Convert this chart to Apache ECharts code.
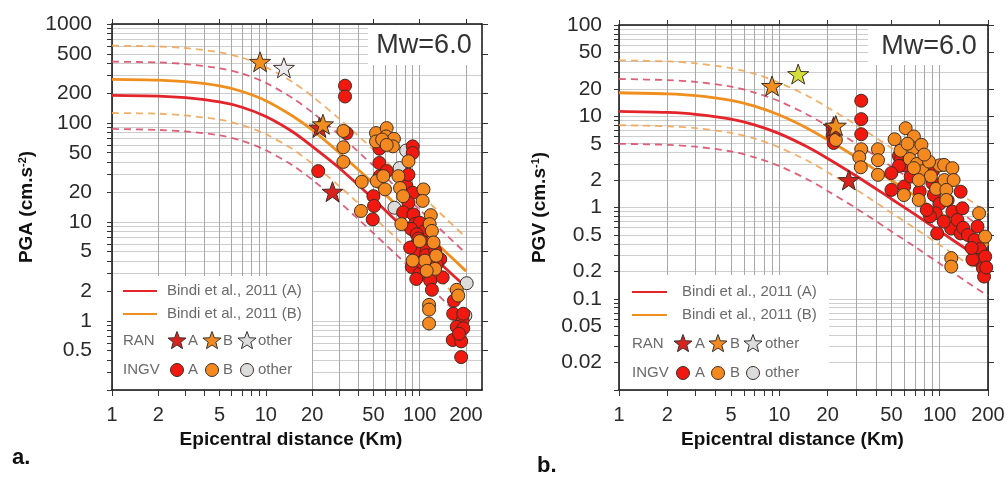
<!DOCTYPE html>
<html><head><meta charset="utf-8">
<script src="https://cdn.jsdelivr.net/npm/echarts@6/dist/echarts.min.js"></script>
<style>html,body{margin:0;padding:0;background:#fff}#c{width:1008px;height:480px}</style>
</head><body><div id="c"></div>
<script>
// ---------- data ----------
const DIST = [1,2,3,5,7,10,15,20,30,50,70,100,150,200];
// Bindi et al. 2011 curves (PGA, cm/s2)
const PGA_A_MED = [190,187,180,163,144,116,81,58,35,17,10.3,6.1,3.3,2.2];
const PGA_A_HI  = [416,409,394,357,315,254,177,128,76,37,22.5,13.3,7.3,4.8];
const PGA_A_LO  = [87,85,82,75,66,53,37,26.7,15.9,7.7,4.7,2.8,1.5,1.0];
const PGA_B_MED = [276,271,261,237,208,168,117,85,50,24.5,15.0,8.8,4.85,3.18];
const PGA_B_HI  = [604,593,572,518,456,367,257,186,110,53.7,32.8,19.3,10.6,6.96];
const PGA_B_LO  = [126,124,119,108,95,77,54,38.8,23.0,11.2,6.9,4.0,2.2,1.45];
// curves (PGV, cm/s)
const PGV_A_MED = [11.3,11.0,10.5,9.3,8.05,6.45,4.6,3.45,2.23,1.24,0.84,0.55,0.34,0.242];
const PGV_A_HI  = [25.6,24.9,23.8,21.1,18.2,14.6,10.4,7.8,5.05,2.81,1.90,1.25,0.77,0.548];
const PGV_A_LO  = [4.99,4.86,4.64,4.11,3.55,2.85,2.03,1.52,0.985,0.547,0.371,0.243,0.150,0.107];
const PGV_B_MED = [18.1,17.6,16.8,14.9,12.9,10.3,7.36,5.52,3.57,1.98,1.34,0.88,0.544,0.387];
const PGV_B_HI  = [41.0,39.9,38.0,33.7,29.2,23.3,16.7,12.5,8.09,4.49,3.04,1.99,1.23,0.877];
const PGV_B_LO  = [7.99,7.77,7.42,6.58,5.70,4.55,3.25,2.44,1.58,0.874,0.592,0.389,0.240,0.171];

// observations [distance km, value]
const PGA_INGV_A = [[32.7,238],[32.7,185],[33.5,79],[21.9,32.6],[50,18.2],[50.5,14.5],[49.5,10.6],[54.7,55],[54.7,39.4],[55,29],[61,32.6],[90,58],[90,49.7],[82,23],[90,19.7],[84.5,15.6],[84.5,30],[78,12.5],[91,11.9],[93,9.5],[100,9.8],[108,8.1],[88,8.5],[95.7,7.5],[98,6.8],[105.8,6.2],[93,5.7],[95.7,4.9],[111,5.1],[86.6,5.5],[110,4.6],[126,5.1],[136,4.2],[115,3.6],[141,2.75],[88.8,3.5],[100,3.0],[95,2.65],[117,2.55],[120,2.06],[103,3.9],[129,3.75],[167,1.6],[165,1.18],[190,1.01],[174,0.87],[192,0.84],[164,0.64],[186,0.62],[180,0.74],[186,0.43],[192,1.18]];
const PGA_INGV_B = [[31.9,83],[31.9,56.8],[31.9,40.4],[42,25.4],[41.5,12.9],[52.5,25.9],[52,79],[61,88.7],[52,65],[60.5,73],[68,69],[67,58],[57,68],[61,60],[59.5,21.3],[58,29],[84.5,41],[72.7,29],[74.5,22],[78,18.2],[105.8,21.3],[104.5,16.3],[118,11.7],[76,9.5],[116,9.5],[120,8.1],[123,6.2],[108,4.06],[100,6.4],[128,4.55],[90,4.06],[126,3.35],[111,3.2],[115,1.45],[115,1.3],[115,0.94],[174,2.06],[178,1.8]];
const PGA_INGV_O = [[81.6,52.6],[68.5,13.9],[74,35],[202,2.4],[198,1.13]];
const PGA_RAN_A = [[22.3,90],[27.1,20.2]];
const PGA_RAN_B = [[9.17,415],[23.5,97]];
const PGA_RAN_O = [[13.1,361]];

const PGV_INGV_A = [[21.5,7.3],[21.5,6.2],[21.8,5.1],[32.4,14.8],[32.4,9.3],[32.4,6.35],[55.7,3.67],[57,3.3],[60,2.9],[55.7,2.86],[49.9,2.38],[50,1.56],[60,1.7],[65.9,2.18],[75,1.5],[90,2.47],[90,1.85],[100,1.8],[92,1.37],[100,1.1],[112,1.2],[94.4,0.865],[96.4,0.52],[87,0.8],[83,0.94],[120,0.9],[135,1.49],[138.6,0.98],[117.8,0.59],[106,0.70],[135,0.52],[129,0.73],[140,0.6],[150,0.5],[172,0.62],[165,0.44],[181,0.33],[178,0.35],[168,0.267],[160,0.27],[186,0.216],[189,0.175],[192,0.29],[195,0.22],[158,0.36]];
const PGV_INGV_B = [[22.5,5.5],[32.4,4.35],[31.5,3.56],[32.2,2.76],[41.2,4.35],[41.2,3.3],[41.2,2.28],[52.3,5.6],[61.3,7.4],[59.8,1.37],[69,6.0],[68.5,4.47],[76.9,4.86],[57,4.2],[65,3.4],[72,3.0],[78,2.5],[88,2.2],[95,1.6],[100,2.9],[69,2.7],[74,2.0],[85.8,3.18],[74,1.21],[106.4,2.93],[120,2.7],[107,2.0],[122,2.0],[110,1.56],[110,1.21],[118,0.279],[118,0.225],[176,0.865],[192,0.48],[80,3.8],[63,5.0]];
const PGV_RAN_A = [[21.8,7.7],[27.1,2.0]];
const PGV_RAN_B = [[9.0,21.5],[22.5,7.9]];
const PGV_RAN_O = [[13.1,29]];

// axes ticks / labels
const X_GRID = [1,2,3,4,5,6,7,8,9,10,20,30,40,50,60,70,80,90,100,200];
const X_LABELS = [1,2,5,10,20,50,100,200];
const Y_GRID_A = [0.2,0.3,0.4,0.5,0.6,0.7,0.8,0.9,1,2,3,4,5,6,7,8,9,10,20,30,40,50,60,70,80,90,100,200,300,400,500,600,700,800,900,1000];
const Y_LABELS_A = [0.5,1,2,5,10,20,50,100,200,500,1000];
const Y_GRID_B = [0.01,0.02,0.03,0.04,0.05,0.06,0.07,0.08,0.09,0.1,0.2,0.3,0.4,0.5,0.6,0.7,0.8,0.9,1,2,3,4,5,6,7,8,9,10,20,30,40,50,60,70,80,90,100];
const Y_LABELS_B = [0.02,0.05,0.1,0.2,0.5,1,2,5,10,20,50,100];

// ---------- style ----------
const TXT = 'Liberation Sans, Arial, Helvetica, sans-serif';
const C_RED = '#e3242b', C_RED_D = '#d8506a', C_OR = '#f08e1e', C_OR_D = '#f0a65a';
const P_RED = '#f0180f', P_OR = '#f4891f', P_GRAY = '#dcdcdc', P_EDGE = '#3e2e26';
const STAR = 'path://M0,-10 L2.35,-3.24 L9.51,-3.09 L3.8,1.24 L5.88,8.09 L0,4 L-5.88,8.09 L-3.8,1.24 L-9.51,-3.09 L-2.35,-3.24 Z';
const fmt = v => String(parseFloat(Number(v).toPrecision(4)));

function pairs(xs, ys){ return xs.map((x,i)=>[x, ys[i]]); }

function xAxes(g, max, namePad){
  return [
    {type:'log', logBase:10, gridIndex:g, min:1, max:max, position:'bottom',
     axisLine:{show:true, lineStyle:{color:'#111', width:1.5}},
     axisTick:{show:true, customValues:X_GRID, length:6, lineStyle:{color:'#333'}},
     axisLabel:{customValues:X_LABELS, fontSize:20, color:'#2a2a2a', margin:15, fontFamily:TXT, formatter:fmt},
     splitLine:{show:true, customValues:X_GRID, lineStyle:{color:'#a8a8a8', width:1}},
     name:'Epicentral distance (Km)', nameLocation:'middle', nameGap:39,
     nameTextStyle:{fontSize:19, fontWeight:'bold', color:'#111', fontFamily:TXT, padding:[0,namePad,0,0]}},
    {type:'log', logBase:10, gridIndex:g, min:1, max:max, position:'top',
     axisLine:{show:true, lineStyle:{color:'#111', width:1.5}},
     axisTick:{show:true, customValues:X_LABELS, length:5, lineStyle:{color:'#333'}},
     axisLabel:{show:false}, splitLine:{show:false}}
  ];
}
function yAxes(g, min, max, grid, labels, margin, name, gap){
  return [
    {type:'log', logBase:10, gridIndex:g, min:min, max:max, position:'left',
     axisLine:{show:true, lineStyle:{color:'#111', width:1.5}},
     axisTick:{show:true, customValues:grid, length:5, lineStyle:{color:'#333'}},
     axisLabel:{customValues:labels, fontSize:21, color:'#2a2a2a', margin:margin, fontFamily:TXT, formatter:fmt},
     splitLine:{show:true, customValues:grid, lineStyle:{color:'#cdcdcd', width:1}},
     name:name, nameLocation:'middle', nameGap:gap, nameRotate:90,
     nameTextStyle:{fontSize:19, fontWeight:'bold', color:'#111', fontFamily:TXT,
       rich:{sup:{fontSize:11, fontWeight:'bold', color:'#111', fontFamily:TXT, verticalAlign:'top'}}}},
    {type:'log', logBase:10, gridIndex:g, min:min, max:max, position:'right',
     axisLine:{show:true, lineStyle:{color:'#111', width:1.5}},
     axisTick:{show:true, customValues:labels, length:6, lineStyle:{color:'#333'}},
     axisLabel:{show:false}, splitLine:{show:false}}
  ];
}
function curve(ys, color, dashed, ax){
  return {type:'line', xAxisIndex:ax, yAxisIndex:ax, data:pairs(DIST, ys), smooth:0.3,
    symbol:'none', silent:true, z:2,
    lineStyle:{color:color, width:dashed?1.8:2.8, type:dashed?[7,5]:'solid', opacity:dashed?0.9:1}};
}
function pts(data, color, symbol, size, ax, z){
  return {type:'scatter', xAxisIndex:ax, yAxisIndex:ax, data:data, symbol:symbol, symbolSize:size,
    symbolKeepAspect:true, z:z, silent:true,
    itemStyle:{color:color, borderColor:P_EDGE, borderWidth:1, opacity:1}};
}

// ---------- graphic (legend boxes, Mw boxes, panel tags) ----------
function starPts(cx, cy, R){
  const p = [], r = R*0.42;
  for (let i=0;i<10;i++){ const a = -Math.PI/2 + i*Math.PI/5, rr = i%2?r:R; p.push([cx+rr*Math.cos(a), cy+rr*Math.sin(a)]); }
  return p;
}
function legendBox(L){
  const els = [];
  els.push({type:'rect', shape:{x:L.bx, y:L.by, width:L.bw, height:L.bh}, style:{fill:'#fff'}, z:5, silent:true});
  const t = (x,y,s)=>({type:'text', x:x, y:y, style:{text:s, font:'15px '+TXT, fill:'#6a6a6a', verticalAlign:'middle', align:'left'}, z:6, silent:true});
  els.push({type:'line', shape:{x1:L.lx1, y1:L.rows[0], x2:L.lx2, y2:L.rows[0]}, style:{stroke:C_RED, lineWidth:2}, z:6});
  els.push(t(L.tx, L.rows[0], 'Bindi et al., 2011 (A)'));
  els.push({type:'line', shape:{x1:L.lx1, y1:L.rows[1], x2:L.lx2, y2:L.rows[1]}, style:{stroke:C_OR, lineWidth:2}, z:6});
  els.push(t(L.tx, L.rows[1], 'Bindi et al., 2011 (B)'));
  els.push(t(L.lx1, L.rows[2], 'RAN'));
  els.push(t(L.lx1, L.rows[3], 'INGV'));
  const cols = [P_RED, P_OR, P_GRAY];
  L.gx.forEach((gx,i)=>{
    els.push({type:'polygon', shape:{points:starPts(gx, L.rows[2], 9.5)}, style:{fill:i===0?'#d8231c':cols[i], stroke:'#333', lineWidth:1}, z:6});
    els.push({type:'circle', shape:{cx:gx, cy:L.rows[3], r:6.5}, style:{fill:cols[i], stroke:P_EDGE, lineWidth:1}, z:6});
  });
  ['A','B','other'].forEach((s,i)=>{ els.push(t(L.lt[i], L.rows[2], s)); els.push(t(L.lt[i], L.rows[3], s)); });
  return els;
}
function mwBox(x,y,w,h,cx){
  return [{type:'rect', shape:{x:x,y:y,width:w,height:h}, style:{fill:'#fff'}, z:5, silent:true},
          {type:'text', x:cx, y:y+h/2+1, style:{text:'Mw=6.0', font:'27px '+TXT, fill:'#333', align:'center', verticalAlign:'middle'}, z:6, silent:true}];
}

const graphic = [].concat(
  legendBox({bx:113, by:276, bw:199, bh:113, lx1:123, lx2:157, tx:167, rows:[291,314,341,370], gx:[177,212,247], lt:[188,223,258]}),
  legendBox({bx:620, by:275, bw:209, bh:114, lx1:632, lx2:667, tx:682, rows:[292,315,344,373], gx:[683,718,753], lt:[695,730,765]}),
  mwBox(368, 25, 113, 40, 424),
  mwBox(868, 26, 119, 39, 929),
  [{type:'text', x:12, y:458, style:{text:'a.', font:'bold 22px '+TXT, fill:'#111', verticalAlign:'middle'}, z:6},
   {type:'text', x:537, y:466, style:{text:'b.', font:'bold 22px '+TXT, fill:'#111', verticalAlign:'middle'}, z:6}]
);

const series = [
  curve(PGA_A_HI, C_RED_D, true, 0), curve(PGA_A_LO, C_RED_D, true, 0),
  curve(PGA_B_HI, C_OR_D, true, 0), curve(PGA_B_LO, C_OR_D, true, 0),
  curve(PGA_B_MED, C_OR, false, 0), curve(PGA_A_MED, C_RED, false, 0),
  pts(PGA_INGV_O, P_GRAY, 'circle', 13, 0, 3),
  pts(PGA_INGV_A, P_RED, 'circle', 13, 0, 3),
  pts(PGA_INGV_B, P_OR, 'circle', 13, 0, 3),
  pts(PGA_RAN_A, '#d8231c', STAR, 21, 0, 4),
  pts(PGA_RAN_B, C_OR, STAR, 21, 0, 4),
  pts(PGA_RAN_O, '#ececf0', STAR, 21, 0, 4),

  curve(PGV_A_HI, C_RED_D, true, 2), curve(PGV_A_LO, C_RED_D, true, 2),
  curve(PGV_B_HI, C_OR_D, true, 2), curve(PGV_B_LO, C_OR_D, true, 2),
  curve(PGV_B_MED, C_OR, false, 2), curve(PGV_A_MED, C_RED, false, 2),
  pts(PGV_INGV_A, P_RED, 'circle', 13, 2, 3),
  pts(PGV_INGV_B, P_OR, 'circle', 13, 2, 3),
  pts(PGV_RAN_A, '#d8231c', STAR, 21, 2, 4),
  pts(PGV_RAN_B, C_OR, STAR, 21, 2, 4),
  pts(PGV_RAN_O, '#d4df3c', STAR, 21, 2, 4)
];

const option = {
  backgroundColor:'#fff',
  animation:false,
  grid:[
    {left:112, top:24, width:370, height:366, outerBoundsMode:'none', containLabel:false},
    {left:619, top:25, width:369, height:365, outerBoundsMode:'none', containLabel:false}
  ],
  xAxis: [].concat(xAxes(0, 254, 12), xAxes(1, 200, 22)),
  yAxis: [].concat(
    yAxes(0, 0.2, 1000, Y_GRID_A, Y_LABELS_A, 20, 'PGA (cm.s{sup|-2})', 76),
    yAxes(1, 0.01, 100, Y_GRID_B, Y_LABELS_B, 17, 'PGV (cm.s{sup|-1})', 70)),
  series: series,
  graphic: graphic
};
const chart = echarts.init(document.getElementById('c'), null, {renderer:'canvas'});
chart.setOption(option);
</script></body></html>
